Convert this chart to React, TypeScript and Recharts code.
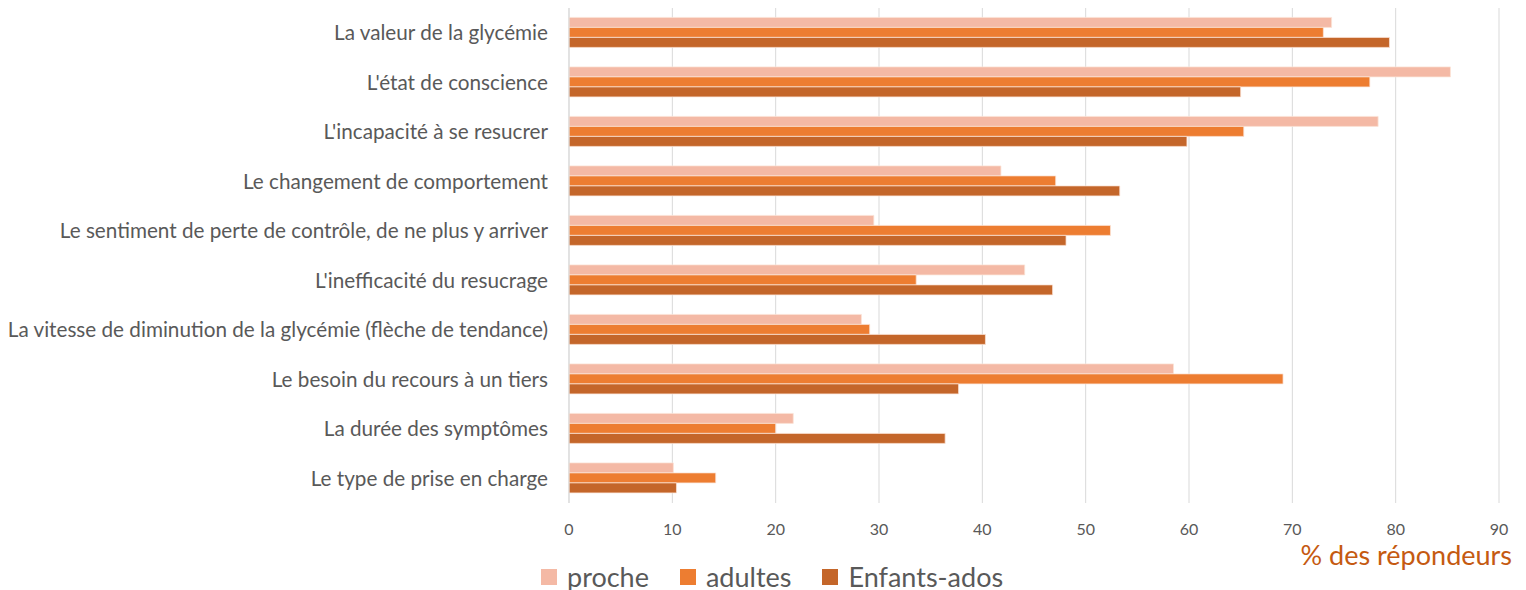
import React from 'react';
import { BarChart, Bar, XAxis, YAxis, CartesianGrid } from 'recharts';

const categories = [
  "La valeur de la glycémie",
  "L'état de conscience",
  "L'incapacité à se resucrer",
  "Le changement de comportement",
  "Le sentiment de perte de contrôle, de ne plus y arriver",
  "L'inefficacité du resucrage",
  "La vitesse de diminution de la glycémie (flèche de tendance)",
  "Le besoin du recours à un tiers",
  "La durée des symptômes",
  "Le type de prise en charge",
];
const proche = [73.8, 85.3, 78.3, 41.8, 29.5, 44.1, 28.3, 58.5, 21.7, 10.1];
const adultes = [73.0, 77.5, 65.3, 47.1, 52.4, 33.6, 29.1, 69.1, 20.0, 14.2];
const enfants = [79.4, 65.0, 59.8, 53.3, 48.1, 46.8, 40.3, 37.7, 36.4, 10.4];
const xTicks = [0, 10, 20, 30, 40, 50, 60, 70, 80, 90];

const seriesNames = ['proche', 'adultes', 'Enfants-ados'];
const colors = ['#F4B9A5', '#ED7D31', '#C4662A'];

const data = categories.map((c, i) => ({
  name: c,
  proche: proche[i],
  adultes: adultes[i],
  enfants: enfants[i],
}));

const FONT = 'Lato, sans-serif';
const TEXT = '#595959';

const AxisTitle = (props: any) => {
  const vb = props.viewBox || {};
  return (
    <text
      x={vb.x + vb.width + 13}
      y={vb.y + 62}
      textAnchor="end"
      fontFamily={FONT}
      fontSize={27}
      fill="#C55A11"
    >
      % des répondeurs
    </text>
  );
};

export default function App() {
  return (
    <div style={{ position: 'relative', width: 1510, height: 582, fontFamily: FONT }}>
      <BarChart
        width={1510}
        height={582}
        data={data}
        layout="vertical"
        margin={{ top: 0, right: 19, left: 0, bottom: 0 }}
        barCategoryGap="19%"
        barGap={0}
      >
        <CartesianGrid horizontal={false} stroke="#D9D9D9" strokeWidth={1} />
        <XAxis
          type="number"
          domain={[0, 90]}
          ticks={xTicks}
          interval={0}
          height={87}
          axisLine={false}
          tickLine={false}
          tickMargin={15}
          tick={{ fontSize: 16, fill: TEXT, fontFamily: FONT }}
          label={<AxisTitle />}
        />
        <YAxis
          type="category"
          dataKey="name"
          width={561}
          interval={0}
          tickLine={false}
          tickMargin={15}
          axisLine={{ stroke: '#D9D9D9' }}
          tick={{ fontSize: 20.7, fill: TEXT, fontFamily: FONT }}
        />
        <Bar dataKey="proche" name="proche" fill={colors[0]} stroke="#FBE3D6" strokeWidth={0.75} isAnimationActive={false} />
        <Bar dataKey="adultes" name="adultes" fill={colors[1]} stroke="#FBE3D6" strokeWidth={0.75} isAnimationActive={false} />
        <Bar dataKey="enfants" name="Enfants-ados" fill={colors[2]} stroke="#FBE3D6" strokeWidth={0.75} isAnimationActive={false} />
      </BarChart>
      <div
        style={{
          position: 'absolute',
          left: 533,
          top: 554,
          display: 'flex',
          alignItems: 'center',
          fontSize: 27,
          color: TEXT,
          fontFamily: FONT,
          lineHeight: '30px',
        }}
      >
        {seriesNames.map((n, i) => (
          <div key={n} style={{ display: 'flex', alignItems: 'center', marginRight: 31 }}>
            <span style={{ display: 'inline-block', width: 16, height: 16, background: colors[i], marginRight: 10 }} />
            <span>{n}</span>
          </div>
        ))}
      </div>
    </div>
  );
}
